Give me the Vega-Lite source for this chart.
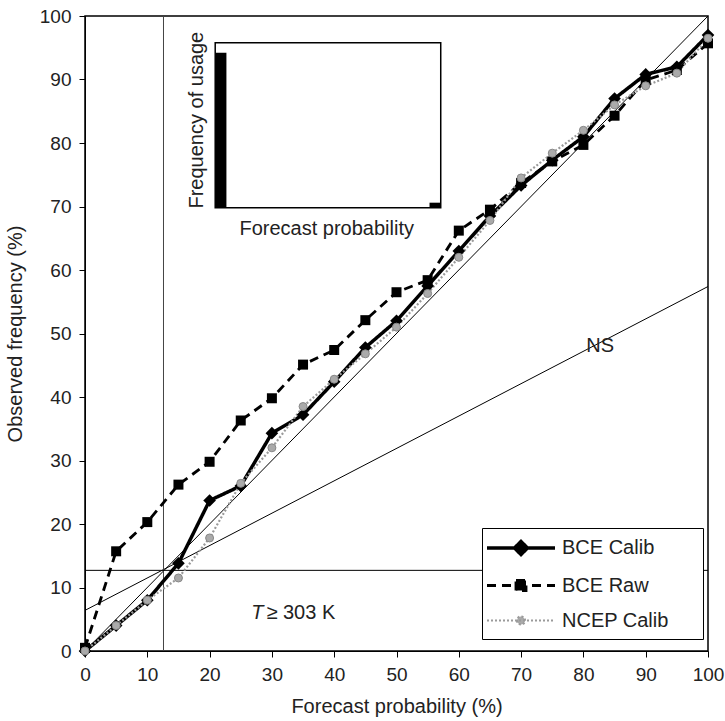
{
  "$schema": "https://vega.github.io/schema/vega-lite/v6.json",
  "autosize": {"type": "none"},
  "padding": {"left": 85, "top": 16, "right": 17, "bottom": 70},
  "width": 623,
  "height": 635,
  "config": {
    "font": "Liberation Sans",
    "view": {"stroke": "black", "strokeWidth": 1.5},
    "axis": {
      "grid": false, "domainColor": "black", "tickColor": "black", "tickSize": 6, "labelFlush": false,
      "labelFontSize": 19, "labelColor": "#222", "titleFontSize": 20, "titleFontWeight": "normal",
      "titleColor": "#222", "labelFont": "Liberation Sans", "titleFont": "Liberation Sans"
    }
  },
  "datasets": {
    "series": [
      {"series": "BCE Raw", "x": 0, "y": 0.5}, {"series": "BCE Raw", "x": 5, "y": 15.7}, {"series": "BCE Raw", "x": 10, "y": 20.3},
      {"series": "BCE Raw", "x": 15, "y": 26.2}, {"series": "BCE Raw", "x": 20, "y": 29.8}, {"series": "BCE Raw", "x": 25, "y": 36.3},
      {"series": "BCE Raw", "x": 30, "y": 39.8}, {"series": "BCE Raw", "x": 35, "y": 45.1}, {"series": "BCE Raw", "x": 40, "y": 47.4},
      {"series": "BCE Raw", "x": 45, "y": 52.1}, {"series": "BCE Raw", "x": 50, "y": 56.5}, {"series": "BCE Raw", "x": 55, "y": 58.4},
      {"series": "BCE Raw", "x": 60, "y": 66.2}, {"series": "BCE Raw", "x": 65, "y": 69.5}, {"series": "BCE Raw", "x": 70, "y": 73.7},
      {"series": "BCE Raw", "x": 75, "y": 77.1}, {"series": "BCE Raw", "x": 80, "y": 79.7}, {"series": "BCE Raw", "x": 85, "y": 84.3},
      {"series": "BCE Raw", "x": 90, "y": 89.9}, {"series": "BCE Raw", "x": 95, "y": 91.5}, {"series": "BCE Raw", "x": 100, "y": 95.7},
      {"series": "BCE Calib", "x": 0, "y": 0}, {"series": "BCE Calib", "x": 5, "y": 4}, {"series": "BCE Calib", "x": 10, "y": 8},
      {"series": "BCE Calib", "x": 15, "y": 13.8}, {"series": "BCE Calib", "x": 20, "y": 23.7}, {"series": "BCE Calib", "x": 25, "y": 26},
      {"series": "BCE Calib", "x": 30, "y": 34.3}, {"series": "BCE Calib", "x": 35, "y": 37.2}, {"series": "BCE Calib", "x": 40, "y": 42.4},
      {"series": "BCE Calib", "x": 45, "y": 47.8}, {"series": "BCE Calib", "x": 50, "y": 52}, {"series": "BCE Calib", "x": 55, "y": 57.5},
      {"series": "BCE Calib", "x": 60, "y": 63}, {"series": "BCE Calib", "x": 65, "y": 68.5}, {"series": "BCE Calib", "x": 70, "y": 73.3},
      {"series": "BCE Calib", "x": 75, "y": 77.3}, {"series": "BCE Calib", "x": 80, "y": 81}, {"series": "BCE Calib", "x": 85, "y": 87},
      {"series": "BCE Calib", "x": 90, "y": 90.8}, {"series": "BCE Calib", "x": 95, "y": 92}, {"series": "BCE Calib", "x": 100, "y": 97},
      {"series": "NCEP Calib", "x": 0, "y": 0}, {"series": "NCEP Calib", "x": 5, "y": 4}, {"series": "NCEP Calib", "x": 10, "y": 8},
      {"series": "NCEP Calib", "x": 15, "y": 11.5}, {"series": "NCEP Calib", "x": 20, "y": 17.8}, {"series": "NCEP Calib", "x": 25, "y": 26.4},
      {"series": "NCEP Calib", "x": 30, "y": 32}, {"series": "NCEP Calib", "x": 35, "y": 38.5}, {"series": "NCEP Calib", "x": 40, "y": 42.8},
      {"series": "NCEP Calib", "x": 45, "y": 46.8}, {"series": "NCEP Calib", "x": 50, "y": 51}, {"series": "NCEP Calib", "x": 55, "y": 56.3},
      {"series": "NCEP Calib", "x": 60, "y": 62}, {"series": "NCEP Calib", "x": 65, "y": 67.8}, {"series": "NCEP Calib", "x": 70, "y": 74.5},
      {"series": "NCEP Calib", "x": 75, "y": 78.4}, {"series": "NCEP Calib", "x": 80, "y": 82}, {"series": "NCEP Calib", "x": 85, "y": 86},
      {"series": "NCEP Calib", "x": 90, "y": 89}, {"series": "NCEP Calib", "x": 95, "y": 91}, {"series": "NCEP Calib", "x": 100, "y": 96.5}
    ],
    "refs": [
      {"line": "perfect", "x": 0, "y": 0}, {"line": "perfect", "x": 100, "y": 100},
      {"line": "NS", "x": 0, "y": 6.4}, {"line": "NS", "x": 100, "y": 57.4}
    ],
    "clim": [{"x": 12.6, "y": 12.7}],
    "inset": [
      {"part": "bar", "x": 20.9, "x2": 22.7, "y": 69.8, "y2": 94.2},
      {"part": "bar", "x": 55.3, "x2": 57.1, "y": 69.8, "y2": 70.6}
    ],
    "insetFrame": [{"x": 20.9, "x2": 57.1, "y": 69.8, "y2": 95.8}]
  },
  "layer": [
    {
      "data": {"name": "refs"},
      "mark": {"type": "line", "color": "black", "strokeWidth": 1, "clip": true},
      "encoding": {
        "x": {"field": "x", "type": "quantitative", "scale": {"domain": [0, 100], "nice": false},
              "axis": {"values": [0,10,20,30,40,50,60,70,80,90,100], "title": "Forecast probability (%)", "labelPadding": 8, "titlePadding": 12}},
        "y": {"field": "y", "type": "quantitative", "scale": {"domain": [0, 100], "nice": false},
              "axis": {"values": [0,10,20,30,40,50,60,70,80,90,100], "title": "Observed frequency (%)", "labelPadding": 8, "titlePadding": 14}},
        "detail": {"field": "line"}
      }
    },
    {
      "data": {"name": "clim"},
      "mark": {"type": "rule", "color": "#444", "strokeWidth": 1},
      "encoding": {"x": {"field": "x", "type": "quantitative"}}
    },
    {
      "data": {"name": "clim"},
      "mark": {"type": "rule", "color": "black", "strokeWidth": 1},
      "encoding": {"y": {"field": "y", "type": "quantitative"}}
    },
    {
      "data": {"name": "insetFrame"},
      "mark": {"type": "rect", "fill": "white", "fillOpacity": 0, "stroke": "black", "strokeWidth": 1.5},
      "encoding": {
        "x": {"field": "x", "type": "quantitative"}, "x2": {"field": "x2"},
        "y": {"field": "y", "type": "quantitative"}, "y2": {"field": "y2"}
      }
    },
    {
      "data": {"name": "inset"},
      "mark": {"type": "rect", "color": "black"},
      "encoding": {
        "x": {"field": "x", "type": "quantitative"}, "x2": {"field": "x2"},
        "y": {"field": "y", "type": "quantitative"}, "y2": {"field": "y2"}
      }
    },
    {
      "data": {"values": [{"x": 18.0, "y": 83.6, "t": "Frequency of usage"}]},
      "mark": {"type": "text", "angle": 270, "fontSize": 20, "color": "#222", "align": "center", "baseline": "middle"},
      "encoding": {"x": {"field": "x", "type": "quantitative"}, "y": {"field": "y", "type": "quantitative"}, "text": {"field": "t"}}
    },
    {
      "data": {"values": [{"x": 38.8, "y": 66.5, "t": "Forecast probability"}, {"x": 82.7, "y": 48.0, "t": "NS"}]},
      "mark": {"type": "text", "fontSize": 20, "color": "#222", "align": "center", "baseline": "middle"},
      "encoding": {"x": {"field": "x", "type": "quantitative"}, "y": {"field": "y", "type": "quantitative"}, "text": {"field": "t"}}
    },
    {
      "data": {"values": [{"x": 28.8, "y": 6.0, "t": "T"}]},
      "mark": {"type": "text", "fontSize": 20, "fontStyle": "italic", "color": "#222", "align": "right", "baseline": "middle", "dx": -1},
      "encoding": {"x": {"field": "x", "type": "quantitative"}, "y": {"field": "y", "type": "quantitative"}, "text": {"field": "t"}}
    },
    {
      "data": {"values": [{"x": 28.8, "y": 6.0, "t": "≥ 303 K"}]},
      "mark": {"type": "text", "fontSize": 20, "color": "#222", "align": "left", "baseline": "middle", "dx": 2},
      "encoding": {"x": {"field": "x", "type": "quantitative"}, "y": {"field": "y", "type": "quantitative"}, "text": {"field": "t"}}
    },
    {
      "data": {"name": "series"},
      "mark": {"type": "line"},
      "encoding": {
        "x": {"field": "x", "type": "quantitative"},
        "y": {"field": "y", "type": "quantitative"},
        "color": {"field": "series", "type": "nominal",
          "scale": {"domain": ["BCE Calib", "BCE Raw", "NCEP Calib"], "range": ["black", "black", "#9a9a9a"]},
          "legend": {
            "title": null, "orient": "none", "legendX": 397, "legendY": 512,
            "fillColor": "white", "strokeColor": "black", "padding": 8,
            "symbolSize": 400, "symbolOffset": 19, "labelOffset": 29, "rowPadding": 12,
            "labelFontSize": 20, "labelColor": "#222", "labelLimit": 400,
            "labelExpr": "datum.label + '\u00a0\u00a0\u2800'",
            "encode": {"symbols": {"update": {
              "shape": {"signal": "datum.value === 'BCE Calib' ? 'M-3.4,0L3.4,0M0,-0.65L0.65,0L0,0.65L-0.65,0Z' : datum.value === 'BCE Raw' ? 'M-3.4,0L3.4,0M-0.5,-0.5L0.5,-0.5L0.5,0.5L-0.5,0.5Z' : 'M-3.4,0L3.4,0M-0.4,0A0.4,0.4,0,1,0,0.4,0A0.4,0.4,0,1,0,-0.4,0Z'"},
              "fill": {"signal": "datum.value === 'NCEP Calib' ? '#aaaaaa' : 'black'"},
              "stroke": {"signal": "datum.value === 'NCEP Calib' ? '#888888' : 'black'"},
              "strokeWidth": {"signal": "datum.value === 'BCE Calib' ? 3 : datum.value === 'BCE Raw' ? 2.2 : 1.2"},
              "opacity": {"value": 1}
            }}}
          }},
        "strokeDash": {"field": "series", "type": "nominal",
          "scale": {"domain": ["BCE Calib", "BCE Raw", "NCEP Calib"], "range": [[1, 0], [9, 6], [2, 2]]}},
        "strokeWidth": {"field": "series", "type": "nominal",
          "scale": {"domain": ["BCE Calib", "BCE Raw", "NCEP Calib"], "range": [3.5, 2.2, 1.2]}, "legend": null},
        "order": {"field": "x", "type": "quantitative"}
      }
    },
    {
      "data": {"name": "series"},
      "transform": [{"filter": "datum.series === 'BCE Raw'"}],
      "mark": {"type": "point", "shape": "square", "filled": true, "color": "black", "size": 100, "opacity": 1},
      "encoding": {"x": {"field": "x", "type": "quantitative"}, "y": {"field": "y", "type": "quantitative"}}
    },
    {
      "data": {"name": "series"},
      "transform": [{"filter": "datum.series === 'BCE Calib'"}],
      "mark": {"type": "point", "shape": "diamond", "filled": true, "color": "black", "size": 160, "opacity": 1},
      "encoding": {"x": {"field": "x", "type": "quantitative"}, "y": {"field": "y", "type": "quantitative"}}
    },
    {
      "data": {"name": "series"},
      "transform": [{"filter": "datum.series === 'NCEP Calib'"}],
      "mark": {"type": "point", "shape": "circle", "filled": true, "fill": "#aaaaaa", "stroke": "#888888", "strokeWidth": 1, "size": 64, "opacity": 1},
      "encoding": {"x": {"field": "x", "type": "quantitative"}, "y": {"field": "y", "type": "quantitative"}}
    }
  ]
}
